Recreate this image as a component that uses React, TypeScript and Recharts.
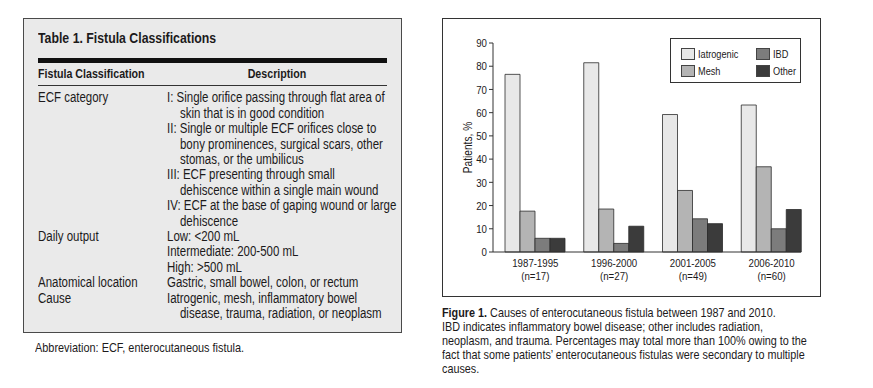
import { BarChart, Bar, XAxis, YAxis, Legend } from "recharts";

const FONT = '"Liberation Sans", Arial, sans-serif';
const INK = "#1c1a1b";
const SQUEEZE = 0.82; // fake a condensed face

// chart data
const periods = ["1987-1995", "1996-2000", "2001-2005", "2006-2010"];
const sampleSizes = ["(n=17)", "(n=27)", "(n=49)", "(n=60)"];
const iatrogenic = [76.5, 81.5, 59.2, 63.3];
const mesh = [17.6, 18.5, 26.5, 36.7];
const ibd = [5.9, 3.7, 14.3, 10.0];
const other = [5.9, 11.1, 12.2, 18.3];
const yTicks = [0, 10, 20, 30, 40, 50, 60, 70, 80, 90];

const series = [
  { key: "iatrogenic", name: "Iatrogenic", fill: "#e8e8e8" },
  { key: "mesh", name: "Mesh", fill: "#b4b4b4" },
  { key: "ibd", name: "IBD", fill: "#7c7c7c" },
  { key: "other", name: "Other", fill: "#3b3b3b" },
];

// table rows
const tableRows = [
  {
    label: "ECF category",
    lines: [
      ["I: Single orifice passing through flat area of", "skin that is in good condition"],
      ["II: Single or multiple ECF orifices close to", "bony prominences, surgical scars, other", "stomas, or the umbilicus"],
      ["III: ECF presenting through small", "dehiscence within a single main wound"],
      ["IV: ECF at the base of gaping wound or large", "dehiscence"],
    ],
  },
  { label: "Daily output", lines: [["Low: <200 mL"], ["Intermediate: 200-500 mL"], ["High: >500 mL"]] },
  { label: "Anatomical location", lines: [["Gastric, small bowel, colon, or rectum"]] },
  {
    label: "Cause",
    lines: [["Iatrogenic, mesh, inflammatory bowel", "disease, trauma, radiation, or neoplasm"]],
  },
];

const captionLines = [
  "IBD indicates inflammatory bowel disease; other includes radiation,",
  "neoplasm, and trauma. Percentages may total more than 100% owing to the",
  "fact that some patients\u2019 enterocutaneous fistulas were secondary to multiple",
  "causes.",
];

const data = periods.map((p, i) => ({
  period: p,
  iatrogenic: iatrogenic[i],
  mesh: mesh[i],
  ibd: ibd[i],
  other: other[i],
}));

const squeezeAt = (x, y) => `translate(${x} ${y}) scale(${SQUEEZE} 1) translate(${-x} ${-y})`;

const Narrow = ({ children, origin = "left top", style = {} }) => (
  <div style={{ transform: `scaleX(${SQUEEZE})`, transformOrigin: origin, whiteSpace: "nowrap", ...style }}>
    {children}
  </div>
);

const PeriodTick = (props) => {
  const { x, y, payload, index } = props;
  return (
    <text x={x} y={y} textAnchor="middle" fill={INK} fontSize={11.8} fontFamily={FONT} transform={squeezeAt(x, y)}>
      <tspan x={x} dy={15}>{payload.value}</tspan>
      <tspan x={x} dy={13}>{sampleSizes[index]}</tspan>
    </text>
  );
};

const ValueTick = (props) => {
  const { x, y, payload } = props;
  return (
    <text x={x} y={y} dy="0.36em" textAnchor="end" fill={INK} fontSize={11.8} fontFamily={FONT} transform={squeezeAt(x, y)}>
      {payload.value}
    </text>
  );
};

const YLabel = (props) => {
  const vb = props.viewBox || { x: 0, y: 25, width: 51, height: 209 };
  const cx = vb.x + vb.width / 2;
  const cy = vb.y + vb.height / 2;
  return (
    <text
      x={0}
      y={0}
      textAnchor="middle"
      dominantBaseline="central"
      fill={INK}
      fontSize={12.4}
      fontFamily={FONT}
      transform={`translate(${cx} ${cy}) rotate(-90) scale(${SQUEEZE} 1)`}
    >
      Patients, %
    </text>
  );
};

const LegendBox = () => {
  // grid order: Iatrogenic, IBD / Mesh, Other
  const order = [series[0], series[2], series[1], series[3]];
  return (
    <div
      style={{
        width: 131,
        height: 45,
        boxSizing: "border-box",
        border: "1px solid #333",
        background: "#fff",
        display: "grid",
        gridTemplateColumns: "75px 50px",
        gridTemplateRows: "17px 17px",
        padding: "6px 0 0 10px",
        fontFamily: FONT,
        fontSize: 11.2,
        color: INK,
      }}
    >
      {order.map((s) => (
        <div key={s.key} style={{ display: "flex", alignItems: "center" }}>
          <span
            style={{
              display: "inline-block",
              flex: "none",
              width: 12,
              height: 10,
              background: s.fill,
              border: "1px solid #444",
              marginRight: 3,
            }}
          />
          <span style={{ display: "inline-block", transform: `scaleX(${SQUEEZE})`, transformOrigin: "left center", whiteSpace: "nowrap" }}>
            {s.name}
          </span>
        </div>
      ))}
    </div>
  );
};

const CausesChart = () => (
  <BarChart
    width={379}
    height={279}
    data={data}
    margin={{ top: 25, right: 20, left: 0, bottom: 0 }}
    barGap={0}
    barSize={15}
  >
    <XAxis
      dataKey="period"
      height={45}
      padding={{ left: 3, right: -10 }}
      tickLine={false}
      tickSize={0}
      tickMargin={0}
      axisLine={{ stroke: "#333" }}
      tick={<PeriodTick />}
      interval={0}
    />
    <YAxis
      width={51}
      domain={[0, 90]}
      ticks={yTicks}
      tickSize={4}
      tickMargin={2}
      axisLine={{ stroke: "#333" }}
      tickLine={{ stroke: "#333" }}
      tick={<ValueTick />}
      label={YLabel}
    />
    <Legend
      layout="vertical"
      align="center"
      verticalAlign="middle"
      wrapperStyle={{ left: 228, top: 20, width: 131 }}
      content={<LegendBox />}
    />
    {series.map((s) => (
      <Bar
        key={s.key}
        dataKey={s.key}
        name={s.name}
        fill={s.fill}
        stroke="#2b2b2b"
        strokeWidth={0.8}
        isAnimationActive={false}
      />
    ))}
  </BarChart>
);

export default function App() {
  return (
    <div
      style={{
        position: "absolute",
        left: 0,
        top: 0,
        width: 873,
        height: 388,
        background: "#fff",
        fontFamily: FONT,
        color: INK,
        overflow: "hidden",
      }}
    >
      {/* Table 1 */}
      <div
        style={{
          position: "absolute",
          left: 23,
          top: 18,
          width: 379,
          height: 315,
          boxSizing: "border-box",
          background: "#eaeaea",
          border: "1.5px solid #4a4a4a",
        }}
      />
      <div style={{ position: "absolute", left: 38, top: 28, fontSize: 15, fontWeight: "bold", lineHeight: "20px" }}>
        <Narrow>Table 1. Fistula Classifications</Narrow>
      </div>
      <div style={{ position: "absolute", left: 38, top: 58, width: 349, height: 5, background: "#111" }} />
      <div style={{ position: "absolute", left: 38, top: 66, fontSize: 13, fontWeight: "bold", lineHeight: "16px" }}>
        <Narrow>Fistula Classification</Narrow>
      </div>
      <div
        style={{
          position: "absolute",
          left: 167,
          top: 66,
          width: 220,
          textAlign: "center",
          fontSize: 13,
          fontWeight: "bold",
          lineHeight: "16px",
        }}
      >
        <Narrow origin="center top">Description</Narrow>
      </div>
      <div style={{ position: "absolute", left: 38, top: 85, width: 349, height: 1, background: "#333" }} />
      <div style={{ position: "absolute", left: 38, top: 90.3, fontSize: 14, lineHeight: "15.4px" }}>
        <Narrow>
          {tableRows.map((row) => (
            <div key={row.label} style={{ display: "flex" }}>
              <div style={{ width: 129 / SQUEEZE }}>{row.label}</div>
              <div>
                {row.lines.map((item, i) => (
                  <div key={i}>
                    {item.map((ln, j) => (
                      <div key={j} style={{ paddingLeft: j > 0 ? 13 / SQUEEZE : 0 }}>
                        {ln}
                      </div>
                    ))}
                  </div>
                ))}
              </div>
            </div>
          ))}
        </Narrow>
      </div>
      <div style={{ position: "absolute", left: 35, top: 340, fontSize: 13.3, lineHeight: "16px" }}>
        <Narrow>Abbreviation: ECF, enterocutaneous fistula.</Narrow>
      </div>

      {/* Figure 1 */}
      <div
        style={{
          position: "absolute",
          left: 442,
          top: 18,
          width: 379,
          height: 279,
          boxSizing: "border-box",
          border: "1px solid #333",
        }}
      />
      <div style={{ position: "absolute", left: 442, top: 18 }}>
        <CausesChart />
      </div>
      <div style={{ position: "absolute", left: 442, top: 306, fontSize: 13.2, lineHeight: "14px" }}>
        <Narrow>
          <div>
            <b>Figure 1.</b> Causes of enterocutaneous fistula between 1987 and 2010.
          </div>
          {captionLines.map((ln) => (
            <div key={ln}>{ln}</div>
          ))}
        </Narrow>
      </div>
    </div>
  );
}
